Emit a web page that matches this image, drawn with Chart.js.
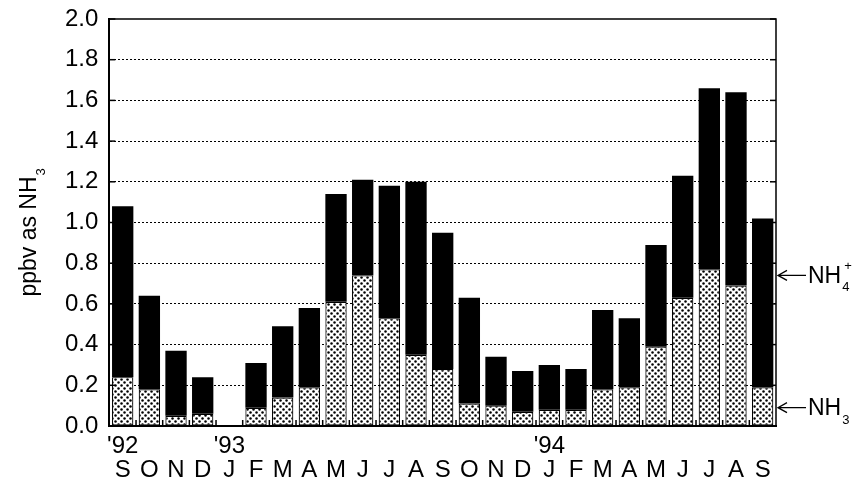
<!DOCTYPE html>
<html lang="en">
<head>
    <meta charset="UTF-8">
    <title>ppbv as NH3</title>
    <style>
        html, body { margin: 0; padding: 0; background: #fff; }
        #wrap { width: 867px; height: 482px; }
    </style>
    <script src="https://cdn.jsdelivr.net/npm/chart.js"></script>
</head>
<body>
    <div id="wrap"><canvas id="chart" width="867" height="482"></canvas></div>
    <script>
        // months Sep 1992 - Sep 1994
        const months = ['S', 'O', 'N', 'D', 'J', 'F', 'M', 'A', 'M', 'J', 'J', 'A', 'S',
                        'O', 'N', 'D', 'J', 'F', 'M', 'A', 'M', 'J', 'J', 'A', 'S'];
        const years = ["'92", '', '', '', "'93", '', '', '', '', '', '', '', '',
                       '', '', '', "'94", '', '', '', '', '', '', '', ''];
        // NH3 (stippled, bottom) and NH4+ (black, top), ppbv
        const nh3 = [0.24, 0.18, 0.05, 0.06, null, 0.09, 0.14, 0.19, 0.61, 0.74, 0.53, 0.35, 0.28,
                     0.11, 0.10, 0.07, 0.08, 0.08, 0.18, 0.19, 0.39, 0.63, 0.77, 0.69, 0.19];
        const nh4 = [0.84, 0.46, 0.32, 0.18, null, 0.22, 0.35, 0.39, 0.53, 0.47, 0.65, 0.85, 0.67,
                     0.52, 0.24, 0.20, 0.22, 0.20, 0.39, 0.34, 0.50, 0.60, 0.89, 0.95, 0.83];
        const yTicks = [0, 0.2, 0.4, 0.6, 0.8, 1.0, 1.2, 1.4, 1.6, 1.8, 2.0];

        const FONT = 'Liberation Sans, Arial, Helvetica, sans-serif';

        // white with black dots
        function stipple() {
            const c = document.createElement('canvas');
            c.width = 6; c.height = 6;
            const g = c.getContext('2d');
            g.fillStyle = '#fff';
            g.fillRect(0, 0, 6, 6);
            g.fillStyle = '#000';
            g.beginPath(); g.arc(1.5, 1.5, 1.25, 0, Math.PI * 2); g.fill();
            g.beginPath(); g.arc(4.5, 4.5, 1.25, 0, Math.PI * 2); g.fill();
            return g.createPattern(c, 'repeat');
        }

        // draws a label like NH + sub + sup
        function chem(ctx, x, y, main, sub, sup, size) {
            ctx.font = size + 'px ' + FONT;
            ctx.fillText(main, x, y);
            const w = ctx.measureText(main).width;
            ctx.font = Math.round(size * 0.58) + 'px ' + FONT;
            ctx.fillText(sub, x + w + 1, y + size * 0.5);
            if (sup) ctx.fillText(sup, x + w + 3, y - size * 0.45);
        }

        const extras = {
            id: 'extras',
            afterDatasetsDraw(chart) {
                const { ctx, chartArea: a, scales: { x, y } } = chart;
                ctx.save();
                ctx.strokeStyle = '#000';
                // frame top + right
                ctx.lineWidth = 1.5;
                ctx.beginPath();
                ctx.moveTo(a.left, a.top); ctx.lineTo(a.right, a.top); ctx.lineTo(a.right, a.bottom);
                ctx.stroke();
                // inward y ticks
                yTicks.forEach(v => {
                    const py = y.getPixelForValue(v);
                    ctx.beginPath(); ctx.moveTo(a.left, py); ctx.lineTo(a.left + 6, py); ctx.stroke();
                    ctx.beginPath(); ctx.moveTo(a.right, py); ctx.lineTo(a.right - 6, py); ctx.stroke();
                });
                // small x ticks between months
                const step = x.getPixelForValue(1) - x.getPixelForValue(0);
                for (let i = 1; i < months.length; i++) {
                    const px = x.getPixelForValue(i) - step / 2;
                    ctx.beginPath(); ctx.moveTo(px, a.bottom); ctx.lineTo(px, a.bottom - 6); ctx.stroke();
                }
                ctx.fillStyle = '#000';
                ctx.textBaseline = 'middle';
                ctx.textAlign = 'left';
                // species labels with arrows
                const notes = [
                    { v: 0.74, sub: '4', sup: '+' },
                    { v: 0.09, sub: '3', sup: '' }
                ];
                ctx.lineWidth = 1.3;
                notes.forEach(n => {
                    const py = y.getPixelForValue(n.v);
                    const x0 = a.right + 2, x1 = a.right + 30;
                    ctx.beginPath();
                    ctx.moveTo(x1, py); ctx.lineTo(x0, py);
                    ctx.moveTo(x0 + 9, py - 5); ctx.lineTo(x0, py); ctx.lineTo(x0 + 9, py + 5);
                    ctx.stroke();
                    chem(ctx, x1 + 2, py + 1, 'NH', n.sub, n.sup, 23);
                });
                // y axis title, rotated
                ctx.translate(30, (a.top + a.bottom) / 2 + 10);
                ctx.rotate(-Math.PI / 2);
                ctx.textAlign = 'left';
                ctx.font = '23px ' + FONT;
                const label = 'ppbv as ';
                const tw = ctx.measureText(label).width + ctx.measureText('NH').width + 8;
                ctx.fillText(label, -tw / 2, 0);
                chem(ctx, -tw / 2 + ctx.measureText(label).width, 0, 'NH', '3', '', 23);
                ctx.restore();
            }
        };

        const ctx = document.getElementById('chart').getContext('2d');
        const dots = stipple();

        new Chart(ctx, {
            type: 'bar',
            data: {
                labels: months.map((m, i) => [years[i], m]),
                datasets: [{
                    label: 'NH3',
                    data: nh3,
                    backgroundColor: dots,
                    borderColor: '#000',
                    borderWidth: 1.2,
                    borderSkipped: false,
                    barPercentage: 0.8,
                    categoryPercentage: 1.0
                }, {
                    label: 'NH4+',
                    data: nh4,
                    backgroundColor: '#000',
                    borderWidth: 0,
                    barPercentage: 0.8,
                    categoryPercentage: 1.0
                }]
            },
            options: {
                responsive: false,
                animation: false,
                layout: { padding: { left: 54, right: 91, top: 19, bottom: 0 } },
                plugins: {
                    legend: { display: false },
                    tooltip: { enabled: false }
                },
                scales: {
                    x: {
                        stacked: true,
                        grid: { display: false },
                        border: { display: true, color: '#000', width: 2 },
                        ticks: {
                            color: '#000',
                            autoSkip: false,
                            maxRotation: 0,
                            padding: 0,
                            font: { family: FONT, size: 24, lineHeight: 1.0 }
                        }
                    },
                    y: {
                        stacked: true,
                        min: 0,
                        max: 2,
                        afterBuildTicks(scale) { scale.ticks = yTicks.map(v => ({ value: v })); },
                        afterFit(scale) { scale.paddingTop = 0; scale.paddingBottom = 0; },
                        grid: {
                            drawTicks: false,
                            color: c => (c.tick && (c.tick.value === 0 || c.tick.value === 2)) ? 'rgba(0,0,0,0)' : '#000',
                            lineWidth: 1
                        },
                        border: { display: true, color: '#000', width: 2, dash: [2, 2] },
                        ticks: {
                            color: '#000',
                            padding: 11,
                            font: { family: FONT, size: 24 },
                            callback: v => Number(v).toFixed(1)
                        }
                    }
                }
            },
            plugins: [extras]
        });
    </script>
</body>
</html>
